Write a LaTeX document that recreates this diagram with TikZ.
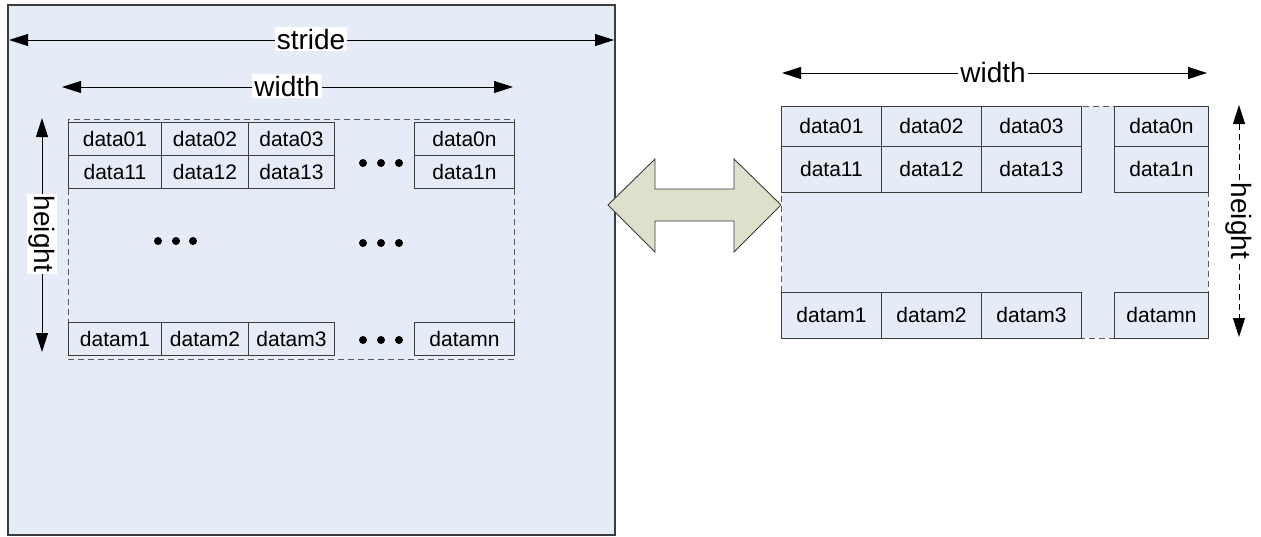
\documentclass[tikz,border=0pt]{standalone}
\usepackage{fontspec}
\setmainfont{Liberation Sans}
\usetikzlibrary{arrows.meta}
\definecolor{bgblue}{RGB}{230,236,247}
\definecolor{arrowfill}{RGB}{221,225,204}
\definecolor{edgegray}{RGB}{60,60,60}
\definecolor{dashgray}{RGB}{90,90,90}
\begin{document}
\begin{tikzpicture}[x=1pt,y=-1pt,
  cell/.style={draw=edgegray, line width=0.9pt, fill=bgblue, inner sep=0pt, anchor=north west,
    font=\fontsize{21}{25}\selectfont, text=black},
  dimlab/.style={fill=white, inner sep=2pt, font=\fontsize{28}{32}\selectfont},
  dimarrow/.style={line width=0.8pt, {Triangle[length=19pt,width=12pt]}-{Triangle[length=19pt,width=12pt]}},
  dashbox/.style={draw=dashgray, line width=0.9pt, dash pattern=on 6pt off 4pt},
  bigbox/.style={draw=edgegray, line width=1.2pt, fill=bgblue},
  dotmark/.style={fill=black}
]
\useasboundingbox (0,0) rectangle (1261,536);

% ---------- left panel ----------
\draw[bigbox] (8,5) rectangle (615,535);

% stride
\coordinate (strideL) at (9,40);
\coordinate (strideR) at (614,40);
\draw[dimarrow] (strideL) -- (strideR);
\node[dimlab] (stride) at (311,39) {stride};

% width (left)
\coordinate (lwidthL) at (62,87);
\coordinate (lwidthR) at (513,87);
\draw[dimarrow] (lwidthL) -- (lwidthR);
\node[dimlab] (lwidth) at (287,86) {width};

% height (left)
\coordinate (lheightT) at (42,118);
\coordinate (lheightB) at (42,352);
\draw[dimarrow] (lheightT) -- (lheightB);
\node[dimlab, rotate=-90] (lheight) at (42,234) {height};

% dashed region
\draw[dashbox] (68,119) rectangle (514,359);

% cells
\node[cell, minimum width=93pt, minimum height=33pt] (l01) at (68,122) {data01};
\node[cell, minimum width=87pt, minimum height=33pt] (l02) at (161,122) {data02};
\node[cell, minimum width=86pt, minimum height=33pt] (l03) at (248,122) {data03};
\node[cell, minimum width=100pt, minimum height=33pt] (l0n) at (414,122) {data0n};
\node[cell, minimum width=93pt, minimum height=33pt] (l11) at (68,155) {data11};
\node[cell, minimum width=87pt, minimum height=33pt] (l12) at (161,155) {data12};
\node[cell, minimum width=86pt, minimum height=33pt] (l13) at (248,155) {data13};
\node[cell, minimum width=100pt, minimum height=33pt] (l1n) at (414,155) {data1n};
\node[cell, minimum width=93pt, minimum height=33pt] (lm1) at (68,322) {datam1};
\node[cell, minimum width=87pt, minimum height=33pt] (lm2) at (161,322) {datam2};
\node[cell, minimum width=86pt, minimum height=33pt] (lm3) at (248,322) {datam3};
\node[cell, minimum width=100pt, minimum height=33pt] (lmn) at (414,322) {datamn};

% dots
\foreach \x in {363,381,399} {
  \fill[dotmark] (\x,163) circle (4pt);
  \fill[dotmark] (\x,243) circle (4pt);
  \fill[dotmark] (\x,340) circle (4pt);
}
\foreach \x in {158,176,193} {
  \fill[dotmark] (\x,241) circle (4pt);
}

% ---------- double arrow ----------
\draw[fill=arrowfill, draw=edgegray, line width=0.9pt, line join=miter]
  (608,205) -- (655,159) -- (655,189) -- (734,189) -- (734,159) -- (781,205)
  -- (734,252) -- (734,221) -- (655,221) -- (655,252) -- cycle;

% ---------- right panel ----------
\coordinate (rwidthL) at (782,73);
\coordinate (rwidthR) at (1207,73);
\draw[dimarrow] (rwidthL) -- (rwidthR);
\node[dimlab] (rwidth) at (993,72) {width};

\draw[dashbox, fill=bgblue] (781,106) rectangle (1208,338);

\node[cell, minimum width=100pt, minimum height=40pt] (r01) at (781,106) {data01};
\node[cell, minimum width=100pt, minimum height=40pt] (r02) at (881,106) {data02};
\node[cell, minimum width=100pt, minimum height=40pt] (r03) at (981,106) {data03};
\node[cell, minimum width=94pt, minimum height=40pt] (r0n) at (1114,106) {data0n};
\node[cell, minimum width=100pt, minimum height=46pt] (r11) at (781,146) {data11};
\node[cell, minimum width=100pt, minimum height=46pt] (r12) at (881,146) {data12};
\node[cell, minimum width=100pt, minimum height=46pt] (r13) at (981,146) {data13};
\node[cell, minimum width=94pt, minimum height=46pt] (r1n) at (1114,146) {data1n};
\node[cell, minimum width=100pt, minimum height=46pt] (rm1) at (781,292) {datam1};
\node[cell, minimum width=100pt, minimum height=46pt] (rm2) at (881,292) {datam2};
\node[cell, minimum width=100pt, minimum height=46pt] (rm3) at (981,292) {datam3};
\node[cell, minimum width=94pt, minimum height=46pt] (rmn) at (1114,292) {datamn};

% height (right)
\coordinate (rheightT) at (1239,105);
\coordinate (rheightB) at (1239,337);
\draw[dimarrow, dash pattern=on 6pt off 4pt] (rheightT) -- (rheightB);
\node[dimlab, rotate=-90] (rheight) at (1239,221) {height};
\end{tikzpicture}
\end{document}
